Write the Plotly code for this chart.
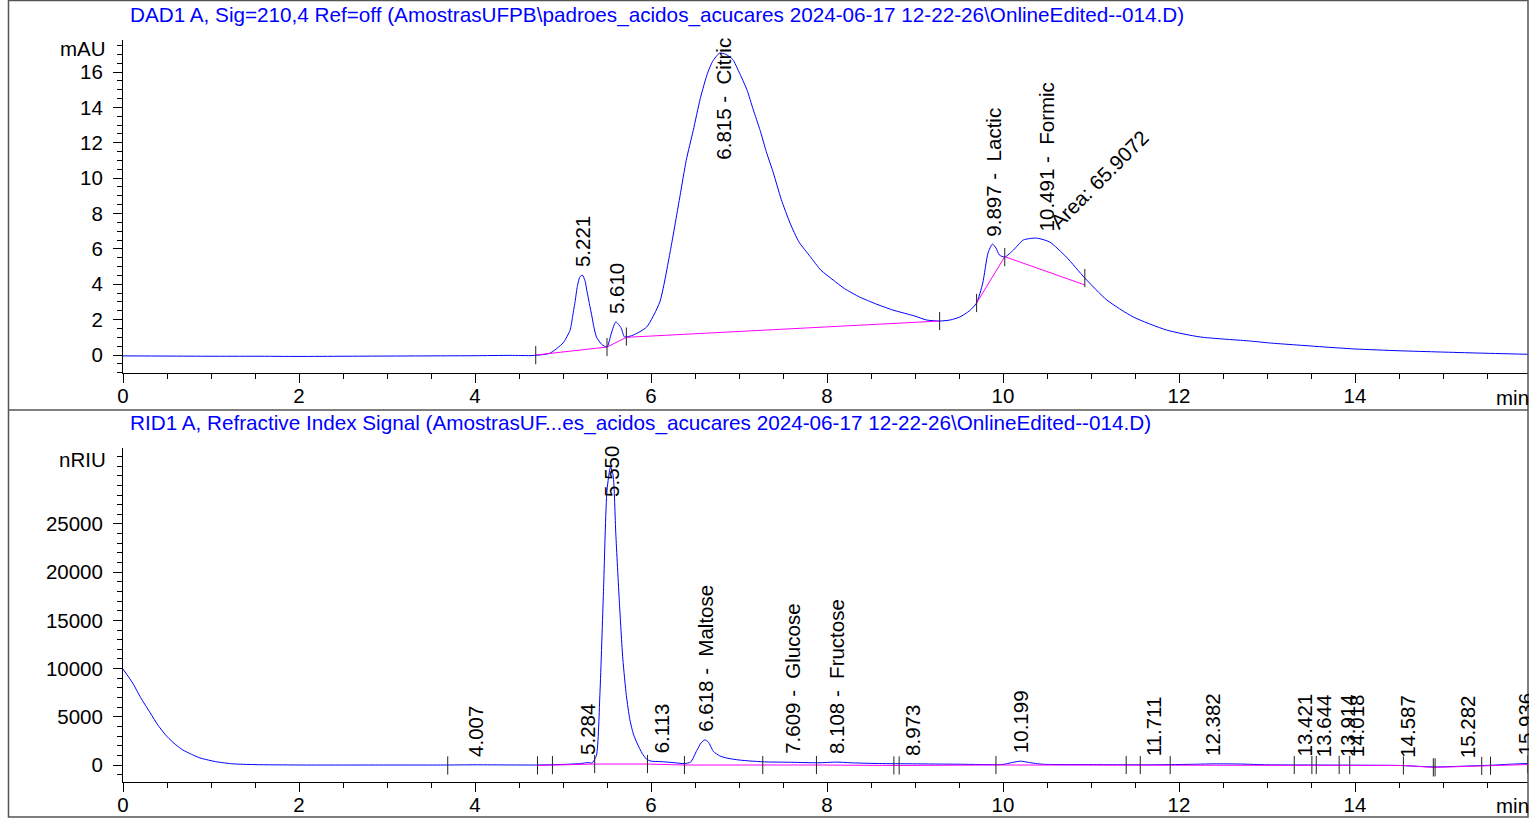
import numpy as np
import plotly.graph_objects as go

W, H = 1529, 818
FONT = "Liberation Sans"

# ---------------- DAD1 A, 210 nm (mAU) ----------------
dad_time = [0, 0.5, 1, 1.5, 2, 2.5, 3, 3.5, 4, 4.4, 4.66, 4.85, 5.0, 5.08, 5.11, 5.14, 5.16, 5.19, 5.22,
            5.25, 5.27, 5.30, 5.33, 5.35, 5.38, 5.44, 5.50, 5.55, 5.60, 5.66, 5.70, 5.80, 5.95, 6.10,
            6.22, 6.33, 6.40, 6.48, 6.56, 6.64, 6.70, 6.78, 6.85, 6.93, 7.00, 7.09, 7.16, 7.24, 7.31,
            7.39, 7.48, 7.58, 7.68, 7.81, 7.93, 8.07, 8.2, 8.37, 8.55, 8.75, 9.0, 9.13, 9.28, 9.40,
            9.51, 9.62, 9.70, 9.77, 9.83, 9.88, 9.92, 9.96, 10.02, 10.12, 10.23, 10.38, 10.53, 10.72,
            10.93, 11.18, 11.48, 11.86, 12.24, 12.81, 13.03, 13.3, 13.75, 14.0, 14.5, 14.97, 15.4, 15.97]
dad_mau = [-0.05, -0.06, -0.07, -0.07, -0.08, -0.07, -0.06, -0.05, -0.04, -0.02, -0.03, 0.1, 0.68, 1.4,
           2.2, 3.1, 3.8, 4.4, 4.52, 4.2, 3.67, 2.9, 2.15, 1.6, 1.02, 0.6, 0.45, 1.24, 1.87, 1.53, 1.02,
           1.13, 1.58, 3.0, 5.9, 9.0, 11.0, 12.7, 14.5, 15.9, 16.6, 17.07, 17.0, 16.7, 16.0, 15.0, 13.9,
           12.7, 11.5, 10.3, 8.8, 7.46, 6.4, 5.56, 4.8, 4.24, 3.75, 3.28, 2.9, 2.54, 2.2, 1.98, 1.92,
           1.98, 2.15, 2.5, 2.94, 4.07, 5.77, 6.27, 6.05, 5.65, 5.54, 5.94, 6.5, 6.61, 6.39, 5.54, 4.35,
           3.11, 2.15, 1.41, 1.02, 0.79, 0.68, 0.58, 0.42, 0.34, 0.24, 0.17, 0.11, 0.04]
dad_base_time = [4.69, 5.50, 5.72, 9.28, None, 9.70, 10.02, 10.93]
dad_base_mau = [0.0, 0.45, 1.0, 1.92, None, 2.94, 5.56, 3.96]
dad_tick_time = [4.69, 5.50, 5.72, 9.28, 9.70, 10.02, 10.93]
dad_peak_rt = [5.221, 5.610, 6.815, 9.897, 10.491]
dad_peak_name = ["", "", "Citric", "Lactic", "Formic"]
dad_area_text = "Area: 65.9072"
dad_yticks = [0, 2, 4, 6, 8, 10, 12, 14, 16]

# ---------------- RID1 A, refractive index (nRIU) ----------------
rid_time = [0, 0.11, 0.2, 0.31, 0.4, 0.5, 0.6, 0.68, 0.78, 0.875, 1.0, 1.07, 1.25, 1.5, 2, 3, 3.7, 4.0,
            4.7, 5.0, 5.2, 5.284, 5.33, 5.38, 5.42, 5.46, 5.50, 5.54, 5.57, 5.60, 5.64, 5.68, 5.72, 5.76,
            5.80, 5.84, 5.90, 5.95, 6.0, 6.113, 6.25, 6.38, 6.45, 6.52, 6.57, 6.61, 6.65, 6.71, 6.78,
            6.86, 7.0, 7.12, 7.31, 7.6, 7.9, 8.108, 8.3, 8.6, 8.97, 9.5, 10.0, 10.1, 10.2, 10.3, 10.45,
            11.0, 11.7, 12.2, 12.4, 12.7, 13.0, 13.5, 14.0, 14.5, 14.9, 15.3, 15.6, 15.8, 15.97]
rid_nriu = [9950, 8500, 7000, 5400, 4100, 2950, 2100, 1560, 1100, 730, 450, 320, 120, 40, 0, 0, 0, 20,
            0, 60, 150, 250, 200, 1000, 7500, 18000, 28500, 30900, 30000, 24000, 17000, 11000, 7200,
            4700, 3200, 2300, 1200, 600, 400, 350, 250, 150, 300, 1500, 2300, 2600, 2400, 1400, 950,
            720, 520, 420, 320, 280, 230, 300, 220, 150, 120, 80, 60, 250, 400, 250, 80,
            40, 20, 80, 120, 100, 20, 0, -20, -50, -200, -100, 0, 100, 150]
rid_base_time = [4.71, 5.36, 5.96, 6.38, 7.88, 8.82, 9.92, 11.40, 11.90, 13.51, 13.94, 14.55, 14.89, 15.44, 15.97]
rid_base_nriu = [-50, 100, 100, 0, 0, -50, 0, 0, 0, 0, 0, -50, -250, -100, 50]
rid_tick_time = [3.69, 4.71, 4.88, 5.36, 5.96, 6.38, 7.27, 7.88, 8.76, 8.82, 9.92, 11.40, 11.56, 11.90,
                 13.31, 13.51, 13.56, 13.82, 13.94, 14.55, 14.89, 14.91, 15.44, 15.54, 15.96]
rid_peak_rt = [4.007, 5.284, 5.550, 6.113, 6.618, 7.609, 8.108, 8.973, 10.199, 11.711, 12.382,
               13.421, 13.644, 13.914, 14.018, 14.587, 15.282, 15.936]
rid_peak_name = ["", "", "", "", "Maltose", "Glucose", "Fructose", "", "", "", "", "", "", "", "", "", "", ""]
rid_yticks = [0, 5000, 10000, 15000, 20000, 25000]

x_ticks = [0, 2, 4, 6, 8, 10, 12, 14]

title_top = "DAD1 A, Sig=210,4 Ref=off (AmostrasUFPB\\padroes_acidos_acucares 2024-06-17 12-22-26\\OnlineEdited--014.D)"
title_bot = "RID1 A, Refractive Index Signal (AmostrasUF...es_acidos_acucares 2024-06-17 12-22-26\\OnlineEdited--014.D)"

# ---------------- layout geometry (pixels) ----------------
X_LEFT, X_RIGHT = 123, 1528
TOP_Y0, TOP_Y1 = 40, 373       # top panel plot area (px from top)
BOT_Y0, BOT_Y1 = 448, 782
X_RANGE = [0, (X_RIGHT - X_LEFT) / 88.0]
TOP_RANGE = [-1.0175, 17.81]
BOT_RANGE = [-1763, 32880]
FS = 20.5


def py(px):
    return 1 - px / H


fig = go.Figure()

blue = "#0000ff"
mag = "#ff00ff"
sig_line = dict(color=blue, width=1, shape="spline", smoothing=0.6)

fig.add_trace(go.Scatter(x=dad_time, y=dad_mau, mode="lines", line=sig_line,
                         xaxis="x", yaxis="y", hoverinfo="skip"))
fig.add_trace(go.Scatter(x=dad_base_time, y=dad_base_mau, mode="lines", line=dict(color=mag, width=1),
                         xaxis="x", yaxis="y", connectgaps=False, hoverinfo="skip"))
fig.add_trace(go.Scatter(x=dad_tick_time, y=np.interp(dad_tick_time, dad_time, dad_mau), mode="markers",
                         marker=dict(symbol="line-ns", size=13, line=dict(color="#222222", width=1)),
                         xaxis="x", yaxis="y", hoverinfo="skip"))

fig.add_trace(go.Scatter(x=rid_time, y=rid_nriu, mode="lines", line=sig_line,
                         xaxis="x2", yaxis="y2", hoverinfo="skip"))
fig.add_trace(go.Scatter(x=rid_base_time, y=rid_base_nriu, mode="lines", line=dict(color=mag, width=1),
                         xaxis="x2", yaxis="y2", hoverinfo="skip"))
fig.add_trace(go.Scatter(x=rid_tick_time, y=np.interp(rid_tick_time, rid_base_time, rid_base_nriu), mode="markers",
                         marker=dict(symbol="line-ns", size=13, line=dict(color="#222222", width=1)),
                         xaxis="x2", yaxis="y2", hoverinfo="skip"))

annotations = []
lab_font = dict(family=FONT, size=FS, color="black")


def apex(t, times, vals):
    dense = np.linspace(t - 0.05, t + 0.05, 41)
    return float(np.max(np.interp(dense, times, vals)))


def add_labels(rts, names, times, vals, xref, yref, yrange):
    for rt, nm in zip(rts, names):
        txt = f"{rt:.3f}" if not nm else f"{rt:.3f} - \u00a0{nm}"
        a = apex(rt, times, vals)
        if a > 0.5 * yrange[1]:
            annotations.append(dict(x=rt, y=yrange[1], xref=xref, yref=yref, text=txt, textangle=-90,
                                    showarrow=False, xanchor="center", yanchor="top", yshift=4,
                                    font=lab_font))
        else:
            annotations.append(dict(x=rt, y=a, xref=xref, yref=yref, text=txt, textangle=-90,
                                    showarrow=False, xanchor="center", yanchor="bottom", yshift=6,
                                    font=lab_font))


add_labels(dad_peak_rt, dad_peak_name, dad_time, dad_mau, "x", "y", TOP_RANGE)
add_labels(rid_peak_rt, rid_peak_name, rid_time, rid_nriu, "x2", "y2", BOT_RANGE)

annotations.append(dict(x=dad_peak_rt[-1], y=apex(dad_peak_rt[-1], dad_time, dad_mau), xref="x", yref="y",
                        text=dad_area_text, textangle=-45, showarrow=False, xanchor="center",
                        yanchor="middle", xshift=53, yshift=60, font=lab_font))

# titles and units
annotations += [
    dict(x=128 / W, y=py(15), xref="paper", yref="paper", text=title_top, showarrow=False,
         xanchor="left", yanchor="middle", font=dict(family=FONT, size=20.7, color=blue)),
    dict(x=128 / W, y=py(423), xref="paper", yref="paper", text=title_bot, showarrow=False,
         xanchor="left", yanchor="middle", font=dict(family=FONT, size=20.7, color=blue)),
    dict(x=108 / W, y=py(48), xref="paper", yref="paper", text="mAU", showarrow=False,
         xanchor="right", yanchor="middle", font=lab_font),
    dict(x=108 / W, y=py(459), xref="paper", yref="paper", text="nRIU", showarrow=False,
         xanchor="right", yanchor="middle", font=lab_font),
    dict(x=1531 / W, y=py(397), xref="paper", yref="paper", text="min", showarrow=False,
         xanchor="right", yanchor="middle", font=lab_font),
    dict(x=1531 / W, y=py(805), xref="paper", yref="paper", text="min", showarrow=False,
         xanchor="right", yanchor="middle", font=lab_font),
]

axis_common = dict(showline=True, linecolor="black", linewidth=1, ticks="outside", ticklen=9,
                   tickcolor="black", tickwidth=1, showgrid=False, zeroline=False, automargin=False,
                   tickfont=dict(family=FONT, size=FS, color="black"), fixedrange=True)

xaxis_def = dict(axis_common, range=X_RANGE, tickmode="array", tickvals=x_ticks, ticklabelstandoff=-5,
                 domain=[X_LEFT / W, X_RIGHT / W],
                 minor=dict(dtick=0.5, tick0=0, ticklen=5, ticks="outside", tickcolor="black", showgrid=False))

fig.update_layout(
    width=W, height=H, margin=dict(l=0, r=0, t=0, b=0, pad=0, autoexpand=False), showlegend=False,
    paper_bgcolor="white", plot_bgcolor="white",
    xaxis=dict(xaxis_def, anchor="y"),
    yaxis=dict(axis_common, range=TOP_RANGE, domain=[py(TOP_Y1), py(TOP_Y0)], anchor="x",
               tickmode="array", tickvals=dad_yticks, ticklabelstandoff=6,
               minor=dict(dtick=0.5, tick0=0, ticklen=5, ticks="outside", tickcolor="black", showgrid=False)),
    xaxis2=dict(xaxis_def, anchor="y2"),
    yaxis2=dict(axis_common, range=BOT_RANGE, domain=[py(BOT_Y1), py(BOT_Y0)], anchor="x2",
                tickmode="array", tickvals=rid_yticks, tickformat="d", ticklabelstandoff=6,
                minor=dict(dtick=1000, tick0=0, ticklen=5, ticks="outside", tickcolor="black", showgrid=False)),
    annotations=annotations,
    shapes=[
        dict(type="rect", xref="paper", yref="paper", x0=8.5 / W, x1=1528 / W, y0=py(817), y1=py(0.5),
             line=dict(color="#555555", width=1.5)),
        dict(type="line", xref="paper", yref="paper", x0=8.5 / W, x1=1528 / W, y0=py(410), y1=py(410),
             line=dict(color="#555555", width=1.5)),
    ],
)

fig.write_html("out.html", config={"displayModeBar": False},
               post_script="document.body.style.margin='0';document.body.style.overflow='hidden';")
